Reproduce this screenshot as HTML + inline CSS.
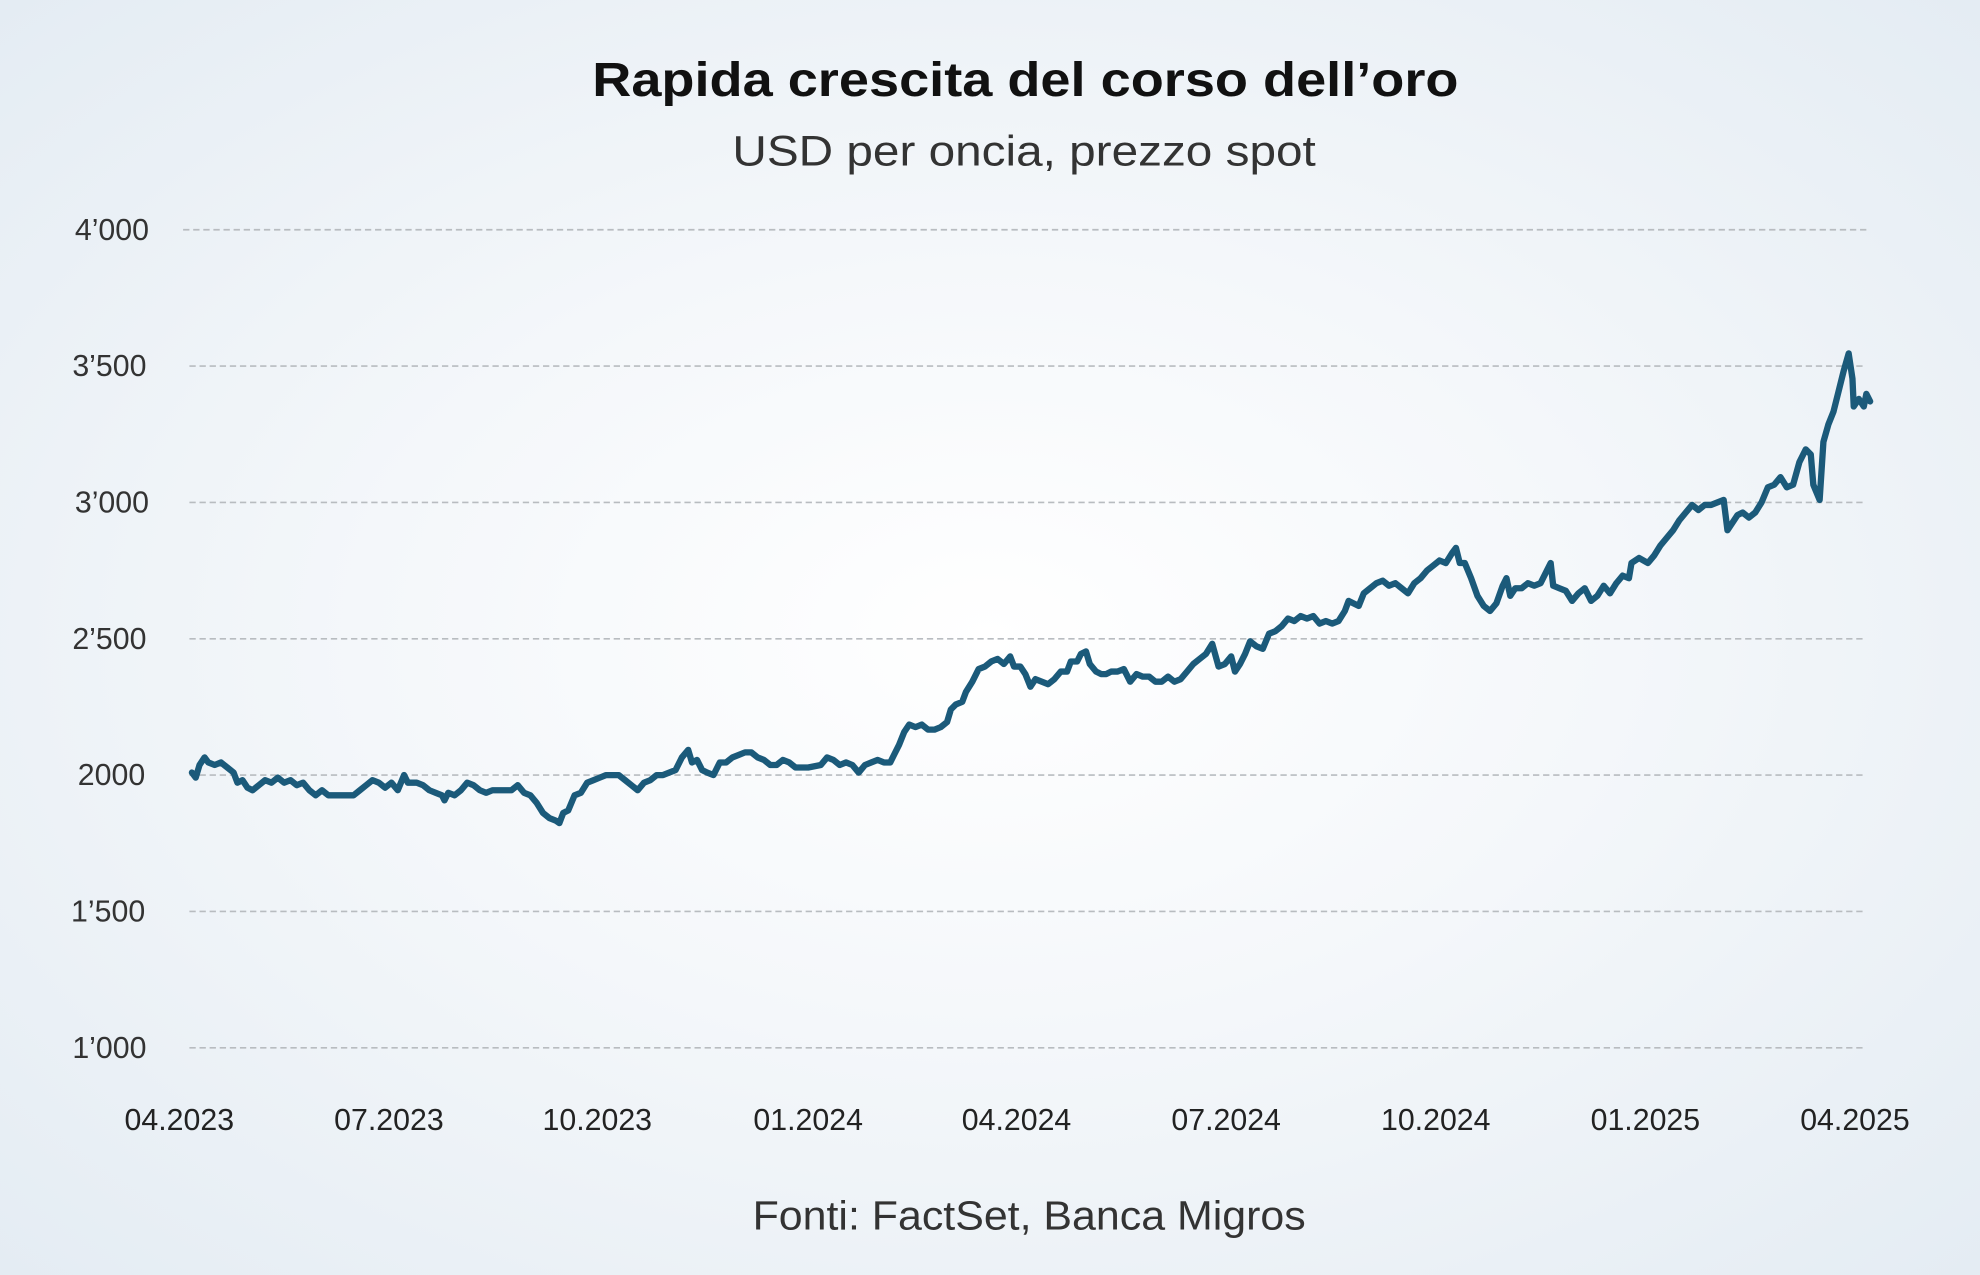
<!DOCTYPE html>
<html><head><meta charset="utf-8"><style>
html,body{margin:0;padding:0;}
body{width:1980px;height:1275px;overflow:hidden;background:radial-gradient(ellipse at 50% 50%,#ffffff 0%,#f4f7fa 45%,#e4ecf3 100%);}
svg{display:block;}
text{font-family:"Liberation Sans",sans-serif;}
</style></head><body>
<svg width="1980" height="1275" viewBox="0 0 1568 1010" preserveAspectRatio="none">
<text x="812" y="76" text-anchor="middle" font-size="38" font-weight="bold" fill="#111" textLength="686" lengthAdjust="spacingAndGlyphs">Rapida crescita del corso dell’oro</text>
<text x="811" y="131" text-anchor="middle" font-size="34" fill="#333" textLength="462" lengthAdjust="spacingAndGlyphs">USD per oncia, prezzo spot</text>
<g stroke="#b8bcc0" stroke-width="1.3" stroke-dasharray="5,3">
<line x1="145" y1="182" x2="1478" y2="182"/>
<line x1="150" y1="290" x2="1478" y2="290"/>
<line x1="150" y1="398" x2="1478" y2="398"/>
<line x1="150" y1="506" x2="1478" y2="506"/>
<line x1="150" y1="614" x2="1478" y2="614"/>
<line x1="150" y1="722" x2="1478" y2="722"/>
<line x1="150" y1="830" x2="1478" y2="830"/>
</g>
<g font-size="24" fill="#333" text-anchor="end">
<text x="118" y="190">4’000</text>
<text x="116" y="298">3’500</text>
<text x="118" y="406">3’000</text>
<text x="116" y="514">2’500</text>
<text x="115" y="622">2000</text>
<text x="115" y="730">1’500</text>
<text x="116" y="838">1’000</text>
</g>
<g font-size="24" fill="#222" text-anchor="middle">
<text x="142" y="895">04.2023</text>
<text x="308" y="895">07.2023</text>
<text x="473" y="895">10.2023</text>
<text x="640" y="895">01.2024</text>
<text x="805" y="895">04.2024</text>
<text x="971" y="895">07.2024</text>
<text x="1137" y="895">10.2024</text>
<text x="1303" y="895">01.2025</text>
<text x="1469" y="895">04.2025</text>
</g>
<polyline fill="none" stroke="#1b5a7a" stroke-width="5" stroke-linejoin="round" stroke-linecap="round" points="152,612 155,616 158,606 162,600 165,604 170,606 175,604 180,608 185,612 188,620 192,618 196,624 200,626 205,622 210,618 215,620 220,616 225,620 230,618 235,622 240,620 245,626 250,630 255,626 260,630 265,630 270,630 280,630 285,626 290,622 295,618 300,620 305,624 310,620 315,626 320,614 323,620 330,620 335,622 340,626 345,628 350,630 352,634 355,628 360,630 365,626 370,620 375,622 380,626 385,628 390,626 400,626 405,626 410,622 415,628 420,630 425,636 430,644 435,648 440,650 443,652 446,644 450,642 455,630 460,628 465,620 470,618 475,616 480,614 490,614 495,618 500,622 505,626 510,620 515,618 520,614 525,614 530,612 535,610 540,600 545,594 548,604 552,602 556,610 560,612 565,614 570,604 575,604 580,600 585,598 590,596 595,596 600,600 605,602 610,606 615,606 620,602 625,604 630,608 640,608 650,606 655,600 660,602 665,606 670,604 675,606 680,612 685,606 690,604 695,602 700,604 705,604 708,598 712,590 716,580 720,574 725,576 730,574 735,578 740,578 745,576 750,572 753,562 757,558 762,556 765,548 770,540 775,530 780,528 785,524 790,522 795,526 800,520 803,528 808,528 812,534 816,544 820,538 825,540 830,542 835,538 840,532 845,532 848,524 853,524 856,518 860,516 863,526 868,532 872,534 876,534 880,532 885,532 890,530 895,540 900,534 905,536 910,536 915,540 920,540 925,536 930,540 935,538 940,532 945,526 950,522 955,518 960,510 965,528 970,526 975,520 978,532 982,526 986,518 990,508 995,512 1000,514 1005,502 1010,500 1015,496 1020,490 1025,492 1030,488 1035,490 1040,488 1045,494 1050,492 1055,494 1060,492 1065,484 1068,476 1072,478 1076,480 1080,470 1085,466 1090,462 1095,460 1100,464 1105,462 1110,466 1115,470 1120,462 1125,458 1130,452 1135,448 1140,444 1145,446 1150,438 1153,434 1156,446 1160,446 1165,458 1170,472 1175,480 1180,484 1185,478 1190,464 1193,458 1196,472 1200,466 1205,466 1210,462 1215,464 1220,462 1225,452 1228,446 1230,464 1235,466 1240,468 1245,476 1250,470 1255,466 1260,476 1265,472 1270,464 1275,470 1280,462 1285,456 1290,458 1292,446 1298,442 1305,446 1310,440 1315,432 1320,426 1325,420 1330,412 1335,406 1340,400 1345,404 1350,400 1355,400 1360,398 1365,396 1368,420 1372,414 1376,408 1380,406 1385,410 1390,406 1395,398 1400,386 1405,384 1410,378 1415,386 1420,384 1425,366 1430,356 1434,360 1436,384 1441,396 1444,350 1448,336 1452,326 1456,310 1460,294 1464,280 1467,300 1468,322 1472,316 1476,322 1478,312 1481,318"/>
<text x="815" y="974" text-anchor="middle" font-size="32" fill="#333" textLength="438" lengthAdjust="spacingAndGlyphs">Fonti: FactSet, Banca Migros</text>
</svg>
</body></html>
